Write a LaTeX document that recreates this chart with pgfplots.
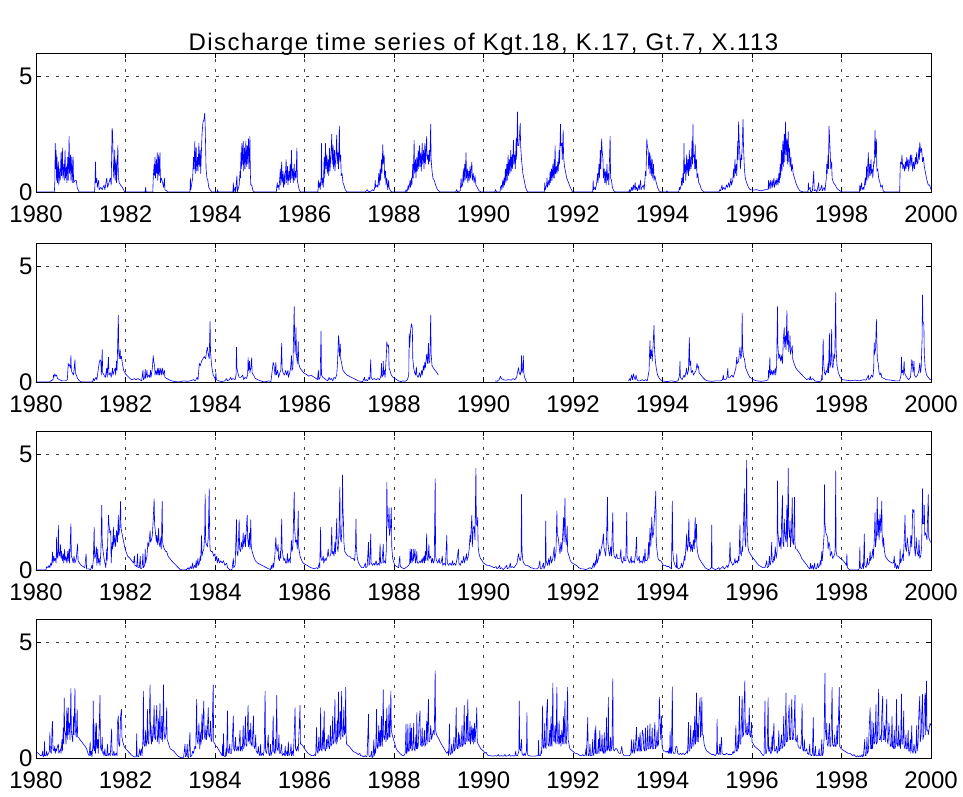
\documentclass[border=0pt]{standalone}
\usepackage{fontspec}
\setmainfont{Liberation Sans}
\usepackage{pgfplots}
\pgfplotsset{compat=1.18}
\usepackage{pgfplotstable}

\pgfplotstableread{
x y
0 0
0.41 0
0.42 0.4
0.43 2.1
0.44 1.0
0.45 1.8
0.46 0.5
0.47 1.5
0.48 0.4
0.50 1.3
0.51 0.3
0.53 1.0
0.54 0.5
0.56 1.7
0.57 0.7
0.59 1.9
0.60 0.6
0.62 1.2
0.63 0.5
0.65 1.8
0.66 0.6
0.68 1.1
0.69 0.4
0.71 1.5
0.72 0.5
0.74 2.4
0.75 0.8
0.77 1.6
0.78 0.5
0.80 1.5
0.81 0.4
0.83 1.5
0.84 0.4
0.87 0.5
0.90 0.5
0.92 0.2
0.96 0
1.31 0
1.32 0.5
1.33 1.3
1.34 0.4
1.36 0.6
1.37 0.2
1.40 0.5
1.41 0.1
1.45 0.2
1.48 0.1
1.52 0.3
1.54 0.1
1.58 0.6
1.60 0.2
1.63 0.4
1.66 0.6
1.68 0.3
1.70 2.75
1.71 2.6
1.73 1.0
1.74 0.6
1.76 1.8
1.77 0.5
1.79 1.4
1.80 0.4
1.83 2.0
1.84 0.6
1.86 0.4
1.89 0.3
1.93 0.2
1.97 0.05
1.99 0
2.44 0
2.45 0.2
2.46 0
2.61 0
2.62 0.6
2.64 1.2
2.65 0.7
2.66 1.5
2.67 0.6
2.69 1.4
2.70 0.8
2.71 1.7
2.72 0.5
2.74 1.6
2.75 0.7
2.77 1.7
2.78 0.4
2.80 0.6
2.83 0.4
2.85 0.2
2.87 0.6
2.88 0.1
2.92 0.05
2.95 0
3.44 0
3.45 0.6
3.46 0.1
3.50 0.6
3.52 1.5
3.53 1.0
3.55 2.2
3.56 0.8
3.58 1.9
3.59 0.9
3.61 1.5
3.62 0.9
3.64 2.1
3.65 1.1
3.67 1.8
3.68 0.8
3.71 2.5
3.73 3.0
3.75 3.1
3.77 3.4
3.78 2.9
3.79 2.0
3.80 1.0
3.82 0.6
3.84 0.5
3.86 0.2
3.89 0.1
3.93 0
4.05 0
4.06 0.1
4.07 0
4.40 0
4.41 0.4
4.42 0
4.45 0.2
4.46 0
4.49 0.7
4.50 0
4.54 0.3
4.56 0.9
4.57 0.6
4.58 1.7
4.59 1.0
4.60 2.1
4.61 1.2
4.63 2.2
4.64 0.9
4.66 1.9
4.67 1.0
4.69 2.2
4.70 1.1
4.72 2.0
4.73 1.2
4.75 2.3
4.76 1.0
4.78 2.4
4.79 0.8
4.80 0.3
4.82 0.3
4.85 0.05
4.88 0
5.37 0
5.39 0.4
5.40 0.2
5.42 0.3
5.43 0.1
5.46 1.0
5.47 0.3
5.49 1.3
5.50 0.4
5.52 0.9
5.53 0.2
5.55 0.8
5.56 0.3
5.59 1.4
5.60 0.4
5.62 1.1
5.63 0.3
5.65 0.9
5.66 0.5
5.68 1.2
5.69 0.4
5.71 1.8
5.72 0.6
5.74 1.0
5.75 0.4
5.77 1.2
5.78 0.5
5.80 0.9
5.81 0.6
5.83 1.9
5.84 0.5
5.86 0.3
5.88 0.1
5.91 0
6.30 0
6.31 0.5
6.32 0.2
6.34 0.4
6.35 0.1
6.37 0.6
6.38 2.1
6.39 0.3
6.41 0.6
6.42 0.2
6.44 1.5
6.45 0.6
6.47 2.1
6.48 1.0
6.50 1.6
6.51 0.8
6.53 1.4
6.54 0.7
6.56 1.9
6.57 0.9
6.59 1.6
6.61 2.5
6.62 1.2
6.64 2.0
6.65 1.0
6.67 1.8
6.68 0.9
6.70 1.5
6.72 2.45
6.73 1.2
6.75 1.7
6.76 1.0
6.78 2.85
6.79 1.3
6.81 1.6
6.82 0.7
6.84 0.8
6.86 0.4
6.88 0.3
6.91 0.1
6.95 0
7.36 0
7.40 0.1
7.43 0
7.50 0.05
7.52 0.1
7.55 0.05
7.57 0.2
7.58 0.5
7.59 0.2
7.62 0.3
7.64 0.2
7.66 0.8
7.67 0.3
7.69 1.0
7.70 0.5
7.72 1.4
7.73 0.8
7.75 2.05
7.76 1.2
7.78 1.6
7.79 0.6
7.81 0.9
7.82 0.3
7.84 0.6
7.86 0.1
7.88 0.5
7.89 0.2
7.92 0.05
7.96 0
8.25 0
8.27 0.1
8.29 0
8.32 0.3
8.33 0.1
8.36 0.5
8.37 0.2
8.39 0.6
8.40 0.3
8.42 1.2
8.43 0.6
8.45 2.24
8.46 0.8
8.48 1.4
8.49 0.6
8.51 1.5
8.52 0.9
8.54 1.8
8.55 1.0
8.57 2.0
8.58 1.1
8.60 1.7
8.61 0.9
8.63 2.1
8.64 1.2
8.66 1.8
8.67 1.0
8.69 2.1
8.70 1.2
8.73 2.4
8.74 1.4
8.76 1.6
8.77 1.2
8.79 1.8
8.80 1.3
8.82 2.93
8.83 1.4
8.85 0.9
8.87 0.6
8.90 0.5
8.93 0.3
8.97 0.1
9.03 0
9.38 0
9.40 0.1
9.42 0
9.48 0.05
9.50 0.6
9.51 0.2
9.53 0.3
9.55 1.0
9.56 0.4
9.58 1.2
9.59 0.5
9.61 1.7
9.62 0.6
9.64 1.0
9.65 0.4
9.67 0.9
9.68 0.5
9.70 1.1
9.71 0.6
9.74 1.3
9.75 0.5
9.77 0.8
9.79 0.4
9.81 0.7
9.83 0.3
9.86 0.2
9.90 0.05
9.95 0
10.25 0
10.27 0.1
10.29 0
10.37 0
10.38 0.2
10.40 0.3
10.41 0.1
10.43 0.5
10.44 0.2
10.46 0.6
10.47 0.3
10.49 1.0
10.50 0.4
10.52 1.2
10.53 0.5
10.55 1.6
10.56 0.7
10.58 1.4
10.59 0.8
10.61 1.8
10.62 0.9
10.64 1.6
10.65 1.0
10.67 2.24
10.68 1.2
10.70 1.6
10.71 1.0
10.73 2.3
10.74 1.4
10.76 3.46
10.77 2.0
10.79 2.0
10.80 2.3
10.82 2.96
10.83 2.0
10.85 1.4
10.88 0.8
10.91 0.5
10.94 0.2
10.97 0.05
11.00 0
11.36 0
11.37 0.4
11.38 0.1
11.41 0.3
11.42 0.6
11.43 0.2
11.46 0.5
11.47 0.3
11.49 0.9
11.50 0.4
11.52 1.0
11.53 0.5
11.55 1.2
11.56 0.6
11.58 1.4
11.59 0.6
11.60 2.0
11.61 0.8
11.63 1.1
11.64 0.8
11.66 1.3
11.67 0.9
11.69 1.8
11.70 1.2
11.72 2.93
11.73 2.0
11.75 2.1
11.76 1.4
11.78 2.67
11.79 1.5
11.81 1.1
11.83 0.9
11.86 0.6
11.90 0.4
11.94 0.2
11.99 0
12.44 0
12.45 0.5
12.46 0.1
12.49 0.2
12.50 0.1
12.53 0.4
12.55 0.8
12.56 0.4
12.58 1.2
12.59 0.6
12.61 1.8
12.62 1.0
12.64 2.3
12.65 1.8
12.67 1.4
12.68 0.6
12.70 1.0
12.71 0.4
12.73 0.9
12.74 0.3
12.76 1.2
12.77 0.5
12.79 0.8
12.80 0.3
12.83 2.4
12.84 0.6
12.86 0.5
12.88 0.2
12.91 0.05
12.95 0
13.25 0
13.26 0.1
13.28 0
13.31 0.2
13.32 0.05
13.35 0.3
13.36 0.1
13.39 0.4
13.40 0.1
13.42 0.2
13.44 0.05
13.47 0.3
13.48 0.1
13.51 0.5
13.52 0.1
13.54 0.2
13.57 0.3
13.59 0.1
13.61 0.6
13.62 0.9
13.63 0.7
13.65 2.3
13.66 2.0
13.68 1.8
13.69 1.0
13.71 1.7
13.72 0.8
13.74 1.6
13.75 0.7
13.77 1.4
13.78 0.6
13.80 1.2
13.81 0.5
13.83 0.7
13.86 0.4
13.89 0.2
13.92 0.05
13.96 0
14.08 0
14.10 0.05
14.13 0
14.36 0
14.38 0.2
14.39 0.1
14.42 0.3
14.43 0.6
14.44 0.3
14.46 0.8
14.47 0.4
14.48 2.1
14.49 0.8
14.51 1.2
14.52 0.5
14.54 1.6
14.55 0.8
14.57 1.4
14.58 0.7
14.60 1.8
14.61 0.9
14.63 1.5
14.64 1.0
14.66 2.2
14.67 1.2
14.68 2.93
14.69 1.5
14.71 1.6
14.72 1.0
14.73 2.05
14.74 1.0
14.76 1.4
14.77 0.6
14.79 0.8
14.81 0.4
14.84 0.3
14.87 0.1
14.92 0
15.26 0
15.28 0.1
15.30 0.05
15.33 0.3
15.34 0.1
15.37 0.2
15.40 0.1
15.43 0.3
15.45 0.2
15.48 0.4
15.50 0.2
15.53 0.6
15.54 0.3
15.57 0.5
15.59 1.0
15.60 0.6
15.62 1.4
15.63 0.8
15.65 1.2
15.66 0.7
15.68 2.2
15.69 1.4
15.70 3.03
15.71 2.4
15.73 1.5
15.74 1.0
15.76 1.6
15.77 1.4
15.80 3.13
15.81 2.0
15.83 1.0
15.85 0.6
15.88 0.4
15.92 0.2
15.96 0.1
16.02 0.08
16.10 0.1
16.20 0.05
16.30 0.1
16.36 0.1
16.37 0.5
16.38 0.15
16.41 0.5
16.42 0.15
16.45 0.5
16.46 0.2
16.49 0.6
16.50 0.2
16.53 0.5
16.54 0.3
16.56 0.6
16.58 0.3
16.60 0.8
16.61 0.4
16.63 1.2
16.64 0.6
16.66 1.8
16.67 0.9
16.69 2.2
16.70 1.1
16.72 2.5
16.73 1.3
16.75 3.03
16.76 1.6
16.78 2.3
16.79 1.2
16.81 2.6
16.82 1.3
16.84 1.9
16.85 1.1
16.87 1.5
16.88 0.9
16.90 1.2
16.92 0.8
16.95 0.6
16.98 0.4
17.02 0.2
17.07 0.05
17.15 0
17.25 0
17.26 0.4
17.27 0.1
17.30 0.2
17.31 0
17.35 0.05
17.38 0.9
17.39 0.05
17.42 0.1
17.45 0
17.49 0.4
17.50 0.05
17.53 0.1
17.56 0.3
17.57 0.05
17.61 0.2
17.63 0.05
17.66 0.6
17.67 1.2
17.68 0.8
17.70 1.6
17.71 1.0
17.72 2.84
17.73 2.5
17.75 1.6
17.76 1.0
17.78 1.3
17.79 0.6
17.82 0.4
17.86 0.3
17.90 0.15
17.96 0.05
18.02 0
18.40 0
18.41 0.3
18.42 0.05
18.45 0.4
18.46 0.1
18.49 0.2
18.50 0.1
18.53 0.6
18.54 0.3
18.56 1.1
18.57 0.5
18.60 1.7
18.61 0.6
18.63 1.2
18.64 0.7
18.66 1.4
18.67 0.8
18.69 1.0
18.70 0.6
18.72 1.3
18.73 1.2
18.75 2.67
18.76 1.5
18.78 2.27
18.79 0.9
18.81 1.0
18.83 0.6
18.86 0.4
18.88 0.2
18.91 0.3
18.93 0.05
18.97 0
19.30 0
19.31 1.0
19.32 1.3
19.34 1.2
19.35 1.6
19.37 1.0
19.39 1.2
19.41 0.9
19.43 1.3
19.44 1.0
19.46 1.5
19.47 1.1
19.49 1.4
19.50 0.9
19.52 1.3
19.54 1.6
19.55 1.1
19.57 1.6
19.59 0.9
19.61 1.3
19.63 1.0
19.65 1.5
19.66 1.2
19.68 1.7
19.69 1.2
19.71 1.3
19.73 1.9
19.74 1.4
19.75 2.14
19.77 1.7
19.79 1.9
19.81 1.3
19.83 1.5
19.85 1.1
19.88 0.8
19.91 0.5
19.94 0.3
19.97 0.3
20.00 0.1
}\tabA

\pgfplotstableread{
x y
0 0
0.30 0
0.33 0.05
0.38 0.1
0.39 0.3
0.40 0.2
0.42 0.35
0.44 0.25
0.46 0.3
0.48 0.15
0.52 0.1
0.58 0.05
0.66 0.05
0.70 0.1
0.72 0.8
0.73 0.7
0.75 0.75
0.77 0.6
0.78 1.15
0.79 0.5
0.81 0.4
0.84 0.3
0.87 0.96
0.88 0.4
0.90 0.3
0.93 0.15
0.97 0.05
1.02 0
1.25 0
1.27 0.05
1.29 0.15
1.30 0.05
1.34 0.2
1.36 0.1
1.41 0.8
1.43 0.96
1.45 0.9
1.46 0.3
1.48 1.4
1.49 0.4
1.52 0.3
1.55 0.2
1.58 0.6
1.59 0.2
1.62 1.07
1.63 0.3
1.66 0.4
1.68 0.2
1.71 0.6
1.72 0.3
1.75 0.5
1.77 0.6
1.78 0.3
1.80 0.9
1.81 0.5
1.82 1.2
1.84 2.88
1.85 1.3
1.86 1.0
1.88 1.4
1.89 1.0
1.91 1.1
1.93 0.8
1.96 0.5
2.00 0.35
2.05 0.25
2.10 0.15
2.15 0.1
2.20 0.15
2.23 0.1
2.28 0.15
2.32 0.1
2.36 0.05
2.39 0.5
2.40 0.1
2.43 0.2
2.44 0.55
2.45 0.15
2.48 0.5
2.49 0.2
2.52 0.3
2.54 0.2
2.56 0.5
2.57 0.2
2.60 0.6
2.62 1.14
2.63 0.9
2.65 0.7
2.66 0.3
2.68 0.5
2.70 0.3
2.72 0.6
2.73 0.3
2.75 0.6
2.76 0.3
2.79 0.6
2.80 0.3
2.83 0.6
2.84 0.3
2.87 0.5
2.88 0.2
2.92 0.15
2.97 0.1
3.03 0.05
3.10 0.02
3.20 0
3.30 0.05
3.38 0.03
3.45 0.05
3.52 0.1
3.56 0.05
3.60 0.2
3.62 0.1
3.65 0.8
3.67 0.7
3.70 0.9
3.73 1.0
3.76 1.1
3.79 1.0
3.81 1.3
3.83 1.5
3.85 1.2
3.87 1.0
3.89 2.63
3.90 1.3
3.92 0.8
3.94 0.5
3.96 0.3
3.99 0.2
4.01 0.1
4.02 0.4
4.03 0.1
4.08 0.05
4.15 0.02
4.22 0.05
4.26 0.15
4.28 0.05
4.32 0.1
4.35 0.2
4.37 0.1
4.40 0.15
4.45 0.1
4.47 0.3
4.48 1.5
4.49 0.6
4.51 0.4
4.54 0.2
4.58 0.2
4.62 0.3
4.64 0.1
4.67 0.2
4.70 0.15
4.73 0.3
4.74 1.05
4.75 0.5
4.77 0.9
4.78 0.4
4.80 0.6
4.82 1.05
4.83 0.4
4.86 0.3
4.90 0.15
4.95 0.1
5.02 0.05
5.10 0
5.20 0.05
5.25 0.02
5.30 0.85
5.32 0.7
5.34 0.3
5.36 0.85
5.37 0.3
5.40 0.5
5.42 0.2
5.45 0.4
5.47 0.5
5.49 1.67
5.50 0.6
5.52 0.4
5.55 0.3
5.58 0.5
5.60 0.3
5.63 0.5
5.64 0.2
5.67 0.4
5.69 0.6
5.71 1.14
5.72 0.5
5.74 0.6
5.77 3.25
5.78 1.8
5.79 1.2
5.81 2.34
5.82 1.2
5.84 0.8
5.86 1.74
5.87 0.8
5.90 0.6
5.94 0.5
5.98 0.4
6.02 0.35
6.06 0.3
6.10 0.25
6.14 0.3
6.18 0.25
6.22 0.2
6.26 0.15
6.29 0.1
6.31 0.5
6.32 0.1
6.35 0.2
6.37 2.2
6.38 0.3
6.41 0.2
6.45 0.15
6.48 0.1
6.52 0.05
6.55 0.2
6.57 0.1
6.60 0.15
6.63 0.05
6.66 0.2
6.69 0.15
6.72 0.3
6.74 0.9
6.76 2.0
6.77 1.8
6.78 1.1
6.80 1.64
6.81 1.0
6.83 0.8
6.86 0.5
6.90 0.4
6.95 0.3
7.00 0.25
7.05 0.2
7.10 0.15
7.15 0.1
7.20 0.05
7.30 0.02
7.34 0.2
7.35 0.05
7.38 0.1
7.41 0.05
7.44 0.2
7.46 0.1
7.48 0.96
7.49 0.2
7.52 0.1
7.56 0.15
7.60 0.1
7.64 0.15
7.68 0.1
7.71 0.3
7.72 0.8
7.73 0.2
7.75 0.3
7.76 0.9
7.77 0.3
7.79 0.5
7.80 0.2
7.83 1.2
7.84 1.74
7.85 1.6
7.87 1.5
7.88 1.6
7.89 0.6
7.91 0.5
7.94 0.3
7.98 0.2
8.02 0.15
8.06 0.1
8.10 0.05
8.15 0.02
8.20 0.05
8.25 0.03
8.30 0.1
8.33 0.3
8.34 2.09
8.35 1.5
8.37 2.2
8.39 2.51
8.40 2.4
8.41 2.34
8.42 1.0
8.44 0.6
8.46 0.4
8.48 0.3
8.50 0.65
8.51 0.3
8.54 0.2
8.57 0.4
8.59 0.2
8.62 0.5
8.63 0.3
8.66 0.7
8.67 0.5
8.69 0.86
8.70 0.6
8.73 1.2
8.75 0.8
8.77 1.67
8.78 0.8
8.80 0.9
8.82 2.88
8.83 1.2
8.85 0.7
8.88 0.6
8.92 0.5
8.96 0.4
8.99 0.3
9.00 nan
10.26 0.05
10.30 0.03
10.35 0.1
10.38 0.25
10.40 0.15
10.44 0.1
10.50 0.08
10.56 0.1
10.62 0.08
10.66 0.15
10.70 0.1
10.74 0.2
10.78 0.62
10.80 0.4
10.82 0.3
10.84 0.5
10.85 1.14
10.86 0.4
10.88 0.6
10.89 1.14
10.90 0.4
10.92 0.2
10.94 0.1
10.96 0
10.97 nan
13.24 0.05
13.27 0.15
13.28 0.05
13.31 0.3
13.33 0.1
13.35 0.35
13.37 0.2
13.39 0.1
13.41 0.3
13.43 0.1
13.46 0.05
13.50 0.05
13.55 0.1
13.58 0.05
13.62 0.1
13.66 0.05
13.70 0.5
13.71 1.2
13.72 1.78
13.73 1.0
13.75 1.4
13.77 0.9
13.79 1.6
13.81 2.44
13.82 1.5
13.84 0.9
13.86 0.6
13.89 0.3
13.93 0.15
13.98 0.05
14.10 0.02
14.20 0.05
14.28 0.02
14.35 0.05
14.38 0.3
14.39 0.89
14.40 0.2
14.44 0.1
14.48 0.3
14.50 0.2
14.54 0.6
14.55 0.3
14.58 0.5
14.60 1.92
14.61 0.7
14.63 0.9
14.64 0.4
14.67 0.5
14.69 0.3
14.72 0.4
14.75 0.5
14.77 0.8
14.79 0.6
14.80 0.7
14.82 0.4
14.86 0.3
14.90 0.2
14.95 0.1
15.00 0.05
15.10 0.03
15.20 0.05
15.30 0.05
15.34 0.1
15.36 0.3
15.37 0.1
15.41 0.1
15.44 0.2
15.46 0.6
15.47 0.2
15.51 0.2
15.55 0.3
15.58 0.2
15.61 0.4
15.64 0.6
15.66 1.07
15.67 0.8
15.70 0.9
15.73 1.5
15.75 1.0
15.77 1.2
15.78 2.98
15.79 1.5
15.81 1.1
15.83 1.0
15.86 0.6
15.90 0.4
15.95 0.2
16.00 0.15
16.03 0.1
16.10 0.05
16.20 0.03
16.30 0.05
16.36 0.1
16.37 0.5
16.38 0.2
16.40 1.07
16.41 0.3
16.44 0.5
16.45 0.3
16.48 0.5
16.49 0.3
16.52 0.6
16.53 0.3
16.55 0.7
16.57 3.25
16.58 1.5
16.60 1.0
16.62 1.2
16.64 0.9
16.66 1.14
16.68 0.8
16.70 1.8
16.72 2.34
16.73 1.5
16.75 2.0
16.76 1.4
16.78 3.08
16.79 1.6
16.81 2.2
16.82 1.3
16.84 1.6
16.85 2.0
16.86 1.2
16.88 1.4
16.90 1.57
16.91 1.0
16.94 0.8
16.98 0.6
17.02 0.5
17.07 0.4
17.12 0.3
17.17 0.2
17.22 0.1
17.26 0.15
17.29 0.1
17.30 0.25
17.32 0.1
17.36 0.15
17.40 0.05
17.45 0.03
17.50 0.02
17.55 0.05
17.56 0.3
17.57 0.1
17.59 1.85
17.60 0.8
17.62 0.4
17.64 0.3
17.66 0.5
17.68 0.4
17.70 0.8
17.71 0.4
17.73 2.1
17.74 0.6
17.76 0.8
17.78 2.27
17.79 0.7
17.81 0.6
17.83 1.2
17.85 1.0
17.87 3.86
17.88 1.4
17.90 0.7
17.93 0.4
17.97 0.2
18.02 0.1
18.10 0.08
18.20 0.05
18.30 0.08
18.40 0.05
18.50 0.1
18.55 0.08
18.60 0.3
18.61 0.1
18.64 0.15
18.67 0.3
18.70 0.2
18.72 0.6
18.73 1.7
18.74 1.2
18.76 1.4
18.78 2.7
18.79 1.8
18.80 1.0
18.82 0.8
18.84 0.4
18.86 0.3
18.88 0.4
18.90 0.2
18.95 0.15
19.00 0.1
19.10 0.08
19.20 0.05
19.30 0.05
19.33 0.3
19.34 1.07
19.35 0.4
19.37 0.5
19.38 0.3
19.40 0.9
19.41 0.4
19.43 0.3
19.46 0.2
19.50 0.1
19.54 0.2
19.56 0.6
19.57 0.96
19.58 0.9
19.60 0.4
19.62 0.9
19.63 0.3
19.66 0.2
19.70 0.3
19.73 0.5
19.75 0.82
19.76 0.4
19.78 0.6
19.80 1.8
19.81 3.76
19.82 2.6
19.84 2.5
19.85 1.2
19.87 0.6
19.90 0.3
19.94 0.2
19.98 0.1
20.00 0.1
}\tabB

\pgfplotstableread{
x y
0 0
0.22 0
0.24 0.15
0.27 0.1
0.29 0.2
0.31 0.1
0.33 0.3
0.35 0.2
0.37 0.78
0.38 0.3
0.40 0.6
0.41 0.4
0.43 0.5
0.45 0.3
0.46 1.42
0.47 0.6
0.49 0.5
0.50 1.94
0.51 0.8
0.53 0.6
0.55 1.1
0.56 0.5
0.57 0.8
0.59 0.4
0.61 0.7
0.62 0.3
0.64 0.9
0.65 0.4
0.67 0.6
0.69 0.3
0.71 0.8
0.72 0.4
0.74 0.9
0.75 0.3
0.78 2.0
0.79 0.6
0.81 0.5
0.83 0.3
0.85 0.6
0.87 0.3
0.90 0.5
0.93 1.13
0.94 0.4
0.97 0.3
1.01 0.2
1.05 0.15
1.09 0.1
1.12 0.7
1.13 0.05
1.17 0.05
1.22 0.02
1.25 0.2
1.26 0.05
1.28 0.4
1.30 1.84
1.31 0.5
1.33 0.6
1.35 1.0
1.36 0.2
1.38 0.9
1.39 0.3
1.41 0.5
1.43 0.2
1.45 0.8
1.47 2.8
1.48 1.2
1.50 0.8
1.52 0.5
1.54 0.3
1.56 0.1
1.58 0.9
1.59 0.4
1.62 2.37
1.63 2.0
1.65 1.6
1.67 1.7
1.68 0.3
1.70 1.2
1.71 0.9
1.73 1.84
1.74 1.0
1.76 1.5
1.78 1.0
1.80 1.7
1.82 1.2
1.84 2.37
1.85 1.5
1.87 1.8
1.89 2.97
1.90 1.8
1.92 1.6
1.95 1.3
1.98 1.0
2.01 0.8
2.05 0.6
2.10 0.5
2.14 0.4
2.18 0.3
2.20 0.6
2.21 0.2
2.25 0.15
2.27 0.7
2.28 0.1
2.31 0.1
2.33 0.6
2.34 0.05
2.37 0.1
2.39 0.7
2.40 0.1
2.43 0.2
2.44 0.9
2.45 0.3
2.48 0.6
2.50 1.2
2.52 1.0
2.55 1.7
2.56 1.2
2.58 1.3
2.60 1.5
2.62 2.2
2.64 3.07
2.65 2.0
2.67 1.6
2.69 1.2
2.70 1.5
2.72 1.1
2.74 1.8
2.75 1.2
2.77 1.0
2.79 1.4
2.80 0.9
2.82 2.97
2.83 1.2
2.85 1.0
2.87 0.9
2.90 0.8
2.92 0.8
2.95 0.6
2.99 0.5
3.03 0.4
3.08 0.3
3.13 0.2
3.18 0.1
3.22 0.02
3.30 0
3.36 0.02
3.40 0.1
3.42 0.02
3.45 0.15
3.47 0.05
3.50 0.3
3.51 0.05
3.54 0.2
3.56 0.1
3.58 0.4
3.59 0.1
3.62 0.5
3.63 0.2
3.65 0.3
3.67 0.6
3.68 0.4
3.70 1.49
3.71 0.6
3.73 0.8
3.75 0.9
3.77 1.5
3.78 3.26
3.79 1.2
3.81 1.1
3.83 1.0
3.85 1.4
3.87 3.51
3.88 1.5
3.89 0.9
3.91 0.8
3.94 0.8
3.97 0.6
4.00 0.7
4.01 0.4
4.04 0.6
4.05 0.3
4.08 0.5
4.10 0.3
4.13 0.4
4.16 0.3
4.19 0.4
4.22 0.2
4.26 0.3
4.28 0.1
4.31 0.05
4.34 0
4.38 0.02
4.41 0.5
4.42 0.1
4.45 0.2
4.48 2.17
4.49 0.8
4.51 0.6
4.52 1.0
4.54 2.17
4.55 0.9
4.57 0.8
4.59 1.2
4.61 0.9
4.63 1.6
4.64 1.0
4.67 1.5
4.68 1.0
4.70 1.8
4.72 2.37
4.73 1.4
4.75 1.0
4.77 1.6
4.78 0.9
4.80 2.17
4.81 1.0
4.83 0.8
4.86 0.6
4.90 0.4
4.95 0.3
5.00 0.25
5.05 0.2
5.10 0.15
5.15 0.1
5.20 0.05
5.24 0.02
5.26 0.2
5.27 0.05
5.30 0.3
5.31 0.1
5.34 0.7
5.36 1.42
5.37 1.0
5.39 0.8
5.41 1.1
5.42 0.5
5.44 0.4
5.46 0.8
5.47 0.5
5.49 2.2
5.50 0.9
5.52 0.6
5.54 0.4
5.56 0.5
5.58 0.3
5.60 0.3
5.62 0.7
5.63 0.3
5.66 0.5
5.68 0.3
5.71 1.27
5.72 0.8
5.74 1.0
5.77 3.36
5.78 1.8
5.80 1.2
5.82 1.3
5.84 0.9
5.86 2.55
5.87 1.0
5.90 0.6
5.94 0.4
5.97 0.3
6.01 0.25
6.06 0.2
6.10 0.15
6.14 0.1
6.18 0.08
6.22 0.05
6.27 0.1
6.30 0.05
6.33 0.3
6.34 0.1
6.36 1.84
6.37 0.5
6.39 0.4
6.42 0.6
6.43 0.3
6.46 0.5
6.48 0.4
6.51 0.6
6.53 0.9
6.54 0.6
6.57 0.6
6.59 0.7
6.61 1.84
6.62 0.7
6.64 0.8
6.66 0.6
6.68 1.2
6.69 0.7
6.72 2.22
6.73 1.0
6.75 0.8
6.77 1.6
6.79 3.58
6.80 1.4
6.82 1.2
6.84 2.0
6.85 4.1
6.86 2.5
6.87 2.12
6.88 1.2
6.90 0.8
6.93 0.7
6.97 0.6
7.01 0.6
7.05 0.5
7.09 0.5
7.12 0.4
7.14 1.0
7.15 2.2
7.16 1.0
7.18 0.5
7.21 0.3
7.24 0.2
7.28 0.1
7.32 0.1
7.36 0.3
7.37 0.1
7.40 0.15
7.43 1.2
7.44 0.2
7.46 0.3
7.48 1.56
7.49 0.3
7.52 0.2
7.55 0.3
7.57 0.2
7.60 0.4
7.62 0.2
7.65 0.3
7.67 0.2
7.69 1.13
7.70 0.3
7.73 0.3
7.76 1.1
7.77 0.3
7.79 0.4
7.81 0.3
7.83 0.9
7.84 3.78
7.85 2.5
7.87 1.8
7.89 2.69
7.90 1.5
7.92 1.8
7.94 2.69
7.95 1.0
7.97 0.5
8.00 0.3
8.02 0.2
8.06 0.15
8.10 0.1
8.13 0.6
8.14 0.15
8.18 0.1
8.22 0.05
8.26 0.1
8.30 0.15
8.33 0.2
8.35 0.3
8.36 0.9
8.37 0.3
8.39 0.9
8.40 0.3
8.42 0.5
8.43 0.9
8.44 0.4
8.47 0.9
8.48 0.3
8.50 0.5
8.51 0.8
8.52 0.3
8.55 0.3
8.58 0.4
8.60 0.3
8.63 0.5
8.64 0.3
8.67 0.6
8.68 0.3
8.70 0.8
8.71 0.4
8.73 1.56
8.74 0.5
8.76 0.4
8.78 1.1
8.79 0.5
8.82 0.6
8.84 0.3
8.86 0.5
8.88 0.3
8.90 0.4
8.92 3.94
8.93 0.6
8.95 0.4
8.98 0.3
9.01 0.5
9.02 0.3
9.05 0.3
9.08 0.6
9.09 0.2
9.12 0.3
9.15 0.2
9.18 1.49
9.19 0.3
9.22 0.2
9.25 0.3
9.28 0.2
9.31 0.4
9.32 0.2
9.35 0.3
9.38 0.2
9.41 0.5
9.44 0.9
9.45 0.3
9.48 0.2
9.51 0.4
9.53 0.3
9.56 0.6
9.57 0.3
9.60 0.5
9.62 0.7
9.63 0.4
9.66 0.6
9.68 0.9
9.70 1.5
9.71 1.2
9.73 2.0
9.74 2.37
9.75 1.0
9.77 1.8
9.79 1.9
9.81 1.3
9.83 4.39
9.84 2.0
9.86 1.9
9.87 2.27
9.88 1.0
9.90 0.7
9.93 0.5
9.97 0.4
10.00 0.3
10.04 0.25
10.08 0.2
10.13 0.2
10.18 0.15
10.24 0.1
10.28 0.15
10.30 0.05
10.33 0.1
10.36 0.2
10.37 0.05
10.40 0.1
10.44 0.02
10.48 0.1
10.52 0.2
10.53 0.05
10.57 0.1
10.60 0.3
10.61 0.1
10.64 0.15
10.68 0.1
10.72 0.2
10.75 0.3
10.78 0.7
10.80 0.5
10.82 0.4
10.84 0.6
10.85 3.26
10.86 0.8
10.88 0.4
10.90 0.3
10.94 0.2
10.98 0.2
11.02 0.15
11.06 0.1
11.10 0.08
11.14 0.05
11.19 0.05
11.23 0.1
11.26 0.4
11.27 0.05
11.30 0.05
11.34 0.3
11.35 0.05
11.38 0.2
11.39 2.12
11.40 0.4
11.43 0.2
11.46 0.5
11.47 0.2
11.50 0.6
11.52 0.3
11.55 0.5
11.58 1.0
11.59 0.4
11.62 0.8
11.64 2.55
11.65 1.5
11.67 1.4
11.69 1.0
11.71 0.7
11.73 1.2
11.75 0.8
11.77 1.5
11.79 2.27
11.80 1.2
11.82 3.09
11.83 1.5
11.85 1.1
11.87 1.9
11.88 0.8
11.91 0.6
11.94 0.4
11.98 0.3
12.03 0.25
12.08 0.2
12.13 0.1
12.18 0.05
12.23 0.05
12.28 0.02
12.33 0.05
12.38 0.1
12.42 0.05
12.46 0.3
12.47 0.1
12.50 0.4
12.51 0.2
12.53 0.7
12.54 0.3
12.57 0.5
12.59 0.9
12.60 0.6
12.62 0.8
12.64 1.0
12.66 1.2
12.68 1.56
12.69 1.0
12.71 0.8
12.73 0.6
12.75 1.4
12.77 3.14
12.78 1.2
12.80 0.8
12.82 0.6
12.84 1.0
12.86 0.6
12.89 2.48
12.90 0.9
12.92 0.6
12.95 0.5
12.98 0.7
12.99 0.5
13.02 0.5
13.05 0.5
13.07 0.9
13.08 0.4
13.11 0.3
13.14 0.6
13.15 0.4
13.18 0.4
13.20 2.48
13.21 0.6
13.24 0.4
13.27 0.3
13.30 0.6
13.31 0.3
13.34 0.4
13.37 0.3
13.40 0.7
13.42 1.42
13.43 0.5
13.45 0.4
13.48 0.6
13.49 0.3
13.52 0.4
13.55 0.3
13.58 0.6
13.59 0.3
13.61 0.9
13.62 0.4
13.65 0.4
13.67 0.5
13.69 1.2
13.70 0.5
13.72 1.8
13.74 1.0
13.76 2.27
13.78 1.4
13.80 1.6
13.83 2.6
13.85 3.4
13.86 1.2
13.88 0.8
13.90 0.5
13.93 0.4
13.96 0.4
13.99 0.3
14.02 0.2
14.06 0.2
14.10 0.15
14.14 0.15
14.17 0.1
14.20 0.05
14.22 2.97
14.23 0.8
14.25 0.4
14.28 0.2
14.31 0.1
14.32 0.7
14.33 0.1
14.36 0.05
14.40 0.1
14.43 0.3
14.44 0.1
14.47 0.3
14.49 0.6
14.50 0.4
14.52 0.9
14.54 1.56
14.55 0.8
14.57 1.0
14.59 2.2
14.60 1.0
14.62 1.2
14.63 0.8
14.65 1.1
14.67 0.8
14.69 1.3
14.71 0.9
14.73 2.27
14.74 1.2
14.76 1.98
14.77 1.0
14.79 0.7
14.82 0.5
14.85 0.4
14.88 0.3
14.92 0.2
14.95 0.1
14.99 0.05
15.03 0.02
15.07 0.05
15.09 0.1
15.10 1.95
15.11 0.1
15.14 0.05
15.18 0.02
15.22 0.05
15.26 0.1
15.28 0.02
15.32 0.1
15.35 0.15
15.38 0.05
15.41 0.1
15.44 0.2
15.46 0.1
15.49 0.3
15.51 1.2
15.52 0.4
15.55 0.3
15.57 0.2
15.60 0.3
15.62 0.5
15.63 0.3
15.66 0.4
15.68 0.3
15.70 0.6
15.71 0.4
15.73 1.95
15.74 0.8
15.76 0.6
15.78 1.0
15.79 0.8
15.81 2.0
15.83 3.51
15.84 1.4
15.86 1.0
15.88 4.75
15.89 2.0
15.91 1.0
15.93 0.8
15.96 0.7
15.99 0.6
16.03 0.5
16.07 0.4
16.11 0.3
16.15 0.2
16.20 0.15
16.25 0.1
16.29 0.1
16.33 0.4
16.34 0.1
16.37 0.15
16.39 0.6
16.40 0.2
16.42 0.3
16.44 1.2
16.45 0.4
16.47 0.3
16.49 0.6
16.50 0.4
16.52 1.0
16.54 0.5
16.56 0.8
16.57 3.85
16.58 1.6
16.60 1.2
16.62 1.0
16.63 1.4
16.65 0.9
16.66 2.0
16.68 3.23
16.69 1.2
16.71 1.0
16.72 2.2
16.74 1.5
16.76 1.2
16.78 2.8
16.79 1.0
16.81 4.39
16.82 1.8
16.84 1.4
16.85 2.12
16.86 1.0
16.88 1.5
16.90 3.12
16.91 1.2
16.93 1.1
16.95 3.14
16.96 1.1
16.98 0.9
17.00 0.9
17.03 0.8
17.07 0.7
17.11 0.5
17.15 0.4
17.19 0.3
17.23 0.2
17.26 0.1
17.29 0.05
17.31 0.3
17.32 0.05
17.35 0.2
17.37 0.02
17.40 0.3
17.41 0.05
17.44 0.05
17.47 0.3
17.48 0.1
17.51 0.2
17.53 0.4
17.54 0.2
17.56 0.8
17.57 0.4
17.59 0.9
17.61 1.5
17.62 3.68
17.63 2.0
17.65 1.6
17.67 1.5
17.69 1.4
17.70 0.9
17.72 1.2
17.74 1.0
17.75 0.6
17.78 0.8
17.80 0.5
17.83 0.6
17.85 0.7
17.86 1.0
17.87 4.28
17.88 0.8
17.90 0.6
17.93 0.6
17.97 0.5
18.01 0.45
18.04 0.4
18.08 0.3
18.11 0.2
18.12 0.7
18.13 0.1
18.16 0.05
18.19 0
18.38 0
18.40 0.1
18.41 1.0
18.42 0.1
18.45 0.05
18.48 0.3
18.49 0.05
18.51 1.56
18.52 0.2
18.55 0.1
18.58 0.5
18.59 0.2
18.62 0.3
18.64 0.8
18.65 0.4
18.68 0.6
18.70 0.9
18.71 0.5
18.73 1.2
18.75 2.48
18.76 1.0
18.78 1.4
18.80 3.14
18.81 1.5
18.83 2.2
18.84 1.3
18.86 2.4
18.88 1.6
18.90 2.97
18.91 1.4
18.93 1.0
18.94 1.4
18.96 0.8
18.98 0.6
19.01 0.5
19.05 0.4
19.09 0.35
19.13 0.3
19.16 0.3
19.18 0.6
19.19 0.1
19.21 0.3
19.23 0.05
19.25 0.2
19.27 0.05
19.30 0.3
19.31 0.9
19.32 0.3
19.35 0.5
19.37 0.7
19.38 0.4
19.40 1.2
19.42 2.37
19.43 1.0
19.45 0.8
19.47 1.4
19.49 1.0
19.51 0.6
19.53 0.8
19.55 1.5
19.57 1.0
19.59 2.62
19.60 2.5
19.62 2.6
19.63 1.0
19.65 0.6
19.67 1.4
19.68 1.0
19.70 0.7
19.72 0.6
19.73 1.3
19.75 0.5
19.77 0.6
19.79 1.0
19.81 3.51
19.82 2.0
19.84 2.0
19.85 2.8
19.86 1.5
19.88 1.6
19.91 1.3
19.92 2.0
19.94 3.26
19.95 1.4
19.97 1.3
19.99 1.2
20.00 1.2
}\tabC

\pgfplotstableread{
x y
0 0.3
0.02 0.25
0.05 0.2
0.08 0.15
0.10 0.1
0.13 0.1
0.15 0.3
0.16 0.05
0.18 0.1
0.19 0.7
0.20 0.1
0.22 0.1
0.24 0.3
0.25 0.1
0.28 0.2
0.30 0.3
0.31 1.1
0.32 0.3
0.34 0.2
0.35 0.6
0.36 1.4
0.37 1.58
0.38 0.4
0.40 0.3
0.42 0.5
0.43 0.2
0.45 0.4
0.46 0.3
0.48 0.5
0.50 0.6
0.51 0.2
0.53 0.3
0.55 0.4
0.56 0.2
0.58 0.8
0.59 0.3
0.61 1.3
0.62 0.6
0.63 2.6
0.64 1.2
0.66 1.0
0.67 0.6
0.69 2.17
0.70 0.8
0.72 2.17
0.73 1.0
0.75 1.5
0.76 0.8
0.78 3.0
0.79 1.2
0.80 1.0
0.82 0.7
0.84 1.8
0.85 1.0
0.87 3.0
0.88 1.2
0.90 0.9
0.92 2.1
0.93 0.9
0.95 0.9
0.98 0.8
1.02 0.7
1.06 0.6
1.10 0.5
1.13 0.4
1.17 0.15
1.19 0.1
1.21 0.7
1.22 0.1
1.24 0.3
1.25 0.05
1.27 0.5
1.28 2.46
1.29 0.4
1.31 0.3
1.32 1.5
1.33 0.2
1.35 1.5
1.36 0.4
1.38 0.8
1.39 0.2
1.41 1.1
1.43 2.7
1.44 0.5
1.46 0.3
1.48 0.9
1.49 0.2
1.50 0.3
1.52 0.1
1.54 0.4
1.55 0.1
1.58 0.1
1.60 0.6
1.61 0.1
1.64 0.2
1.66 0.1
1.69 1.26
1.70 0.2
1.72 0.1
1.74 0.3
1.76 0.1
1.79 0.2
1.81 0.1
1.82 1.5
1.84 1.82
1.85 0.6
1.87 0.5
1.89 1.8
1.91 2.1
1.92 0.9
1.94 0.7
1.97 0.5
2.00 0.4
2.05 0.3
2.10 0.2
2.15 0.1
2.20 0.05
2.24 0.05
2.25 1.05
2.26 0.1
2.29 0.05
2.32 0.4
2.33 0.1
2.36 0.4
2.37 0.1
2.39 0.8
2.40 2.88
2.41 0.6
2.43 0.5
2.45 1.2
2.46 0.5
2.48 0.8
2.49 2.1
2.50 0.7
2.52 0.6
2.53 1.5
2.55 3.16
2.56 1.0
2.58 0.6
2.59 1.4
2.60 0.7
2.62 1.0
2.64 2.27
2.65 0.9
2.67 0.8
2.68 1.6
2.70 2.27
2.71 0.7
2.73 1.0
2.74 1.7
2.75 0.6
2.77 2.35
2.78 0.9
2.80 0.8
2.81 1.8
2.83 0.7
2.85 3.16
2.86 1.2
2.88 0.8
2.90 1.0
2.92 2.17
2.93 0.8
2.95 0.7
2.98 0.5
3.00 0.4
3.04 0.35
3.08 0.3
3.12 0.2
3.16 0.1
3.20 0.05
3.24 0.02
3.28 0
3.30 0.05
3.33 0.6
3.34 0.05
3.36 0.1
3.38 0.6
3.39 0.05
3.41 0.02
3.44 1.1
3.45 0.05
3.48 0.1
3.50 0.3
3.52 0.2
3.55 0.5
3.57 0.4
3.59 2.53
3.60 0.8
3.62 0.6
3.64 1.5
3.66 0.4
3.68 1.1
3.69 0.6
3.71 1.9
3.72 0.8
3.75 2.46
3.76 1.0
3.78 0.8
3.80 1.4
3.81 0.8
3.83 1.2
3.85 2.17
3.86 1.0
3.88 0.9
3.90 1.6
3.91 0.8
3.93 0.7
3.96 3.16
3.97 0.7
4.00 0.6
4.02 0.5
4.04 0.5
4.07 0.4
4.10 0.3
4.13 0.2
4.16 0.1
4.17 0.6
4.18 0.1
4.19 1.05
4.20 0.1
4.23 0.05
4.25 0.4
4.26 0.1
4.28 2.03
4.29 0.3
4.31 0.2
4.33 0.6
4.34 0.2
4.37 0.2
4.39 0.9
4.41 1.82
4.42 0.4
4.44 0.3
4.46 0.9
4.47 0.4
4.49 0.3
4.51 0.5
4.53 0.3
4.56 1.19
4.57 0.3
4.59 0.5
4.61 0.3
4.63 1.4
4.64 0.4
4.66 0.6
4.68 1.8
4.69 0.6
4.71 0.5
4.74 2.27
4.75 0.7
4.77 1.2
4.78 0.6
4.80 1.5
4.81 0.6
4.83 0.5
4.86 1.82
4.87 0.5
4.89 0.4
4.91 1.0
4.92 0.3
4.95 0.2
4.97 0.5
4.98 0.2
5.00 0.1
5.02 0.6
5.03 0.1
5.06 0.2
5.08 0.1
5.10 0.4
5.12 2.88
5.13 0.3
5.15 0.2
5.17 0.5
5.19 1.0
5.20 0.2
5.22 0.1
5.24 0.6
5.25 0.1
5.28 0.3
5.30 1.82
5.31 0.3
5.33 0.2
5.35 0.8
5.36 0.2
5.38 2.7
5.39 0.4
5.41 0.3
5.43 1.0
5.44 0.2
5.46 0.2
5.49 0.6
5.50 0.1
5.53 0.2
5.55 0.1
5.57 0.5
5.58 0.1
5.61 0.3
5.62 0.1
5.64 0.7
5.65 0.1
5.68 0.2
5.70 0.6
5.71 0.1
5.73 0.3
5.75 0.1
5.77 1.0
5.79 2.17
5.80 0.4
5.82 0.3
5.84 0.5
5.86 0.3
5.88 1.2
5.90 2.27
5.91 0.6
5.93 0.6
5.95 0.55
5.97 0.5
6.00 0.4
6.04 0.3
6.08 0.2
6.12 0.15
6.16 0.1
6.20 0.1
6.23 0.15
6.25 0.1
6.27 1.33
6.28 0.3
6.30 0.2
6.32 0.9
6.33 0.3
6.35 0.4
6.36 2.17
6.37 0.4
6.39 0.3
6.41 1.2
6.42 0.4
6.44 2.03
6.45 0.4
6.47 0.3
6.49 0.8
6.50 0.4
6.53 1.0
6.54 0.5
6.56 0.4
6.58 1.4
6.59 0.5
6.61 0.6
6.63 1.8
6.64 0.6
6.66 0.7
6.68 2.53
6.69 0.8
6.71 0.6
6.73 1.6
6.74 0.7
6.76 2.85
6.77 0.9
6.79 1.2
6.80 2.0
6.81 0.8
6.83 2.88
6.84 1.0
6.86 0.9
6.88 2.2
6.89 1.0
6.91 1.1
6.92 3.05
6.93 1.0
6.94 0.6
6.97 0.55
7.00 0.5
7.04 0.4
7.08 0.3
7.12 0.25
7.17 0.2
7.20 0.15
7.24 0.2
7.25 0.1
7.28 0.1
7.32 0.05
7.36 0.1
7.38 0.05
7.40 0.1
7.43 1.89
7.44 0.1
7.46 0.05
7.48 0.1
7.50 0.3
7.51 0.02
7.53 0.05
7.55 0.8
7.56 0.1
7.58 0.4
7.59 0.2
7.61 2.1
7.62 0.5
7.64 0.4
7.66 1.4
7.67 0.5
7.69 1.2
7.70 0.5
7.72 1.8
7.73 0.6
7.74 0.5
7.76 2.95
7.77 0.9
7.79 0.8
7.81 1.6
7.82 0.7
7.84 2.17
7.85 0.8
7.87 0.9
7.89 2.3
7.90 0.9
7.91 0.9
7.93 2.88
7.94 1.2
7.96 1.0
7.99 0.8
8.02 0.6
8.05 0.4
8.08 0.3
8.11 0.25
8.13 0.2
8.16 0.15
8.19 0.1
8.22 0.1
8.25 0.2
8.27 1.47
8.28 0.2
8.30 0.3
8.31 1.47
8.32 0.3
8.34 0.3
8.36 1.5
8.37 0.4
8.39 1.3
8.40 0.3
8.42 0.4
8.44 1.5
8.45 0.4
8.47 0.3
8.49 1.0
8.50 0.4
8.51 1.96
8.52 0.4
8.54 0.5
8.56 1.5
8.58 2.03
8.59 0.6
8.61 0.5
8.63 1.3
8.64 0.5
8.66 0.6
8.68 1.2
8.69 0.5
8.71 0.6
8.73 1.6
8.74 0.6
8.77 2.53
8.78 0.7
8.80 0.7
8.82 1.4
8.84 0.8
8.86 1.0
8.88 1.2
8.90 1.0
8.92 3.76
8.93 1.2
8.95 1.0
8.98 0.9
9.01 0.8
9.03 0.7
9.06 0.6
9.09 0.5
9.12 0.4
9.15 0.3
9.18 0.2
9.21 0.3
9.22 0.1
9.24 1.47
9.25 0.2
9.27 0.15
9.29 0.6
9.30 0.2
9.32 0.3
9.34 0.9
9.35 0.3
9.37 0.4
9.39 2.17
9.40 0.5
9.42 0.4
9.44 1.1
9.45 0.4
9.47 1.0
9.48 0.5
9.50 0.5
9.52 1.4
9.53 0.5
9.55 0.6
9.57 2.27
9.58 0.6
9.60 0.6
9.62 1.8
9.63 0.7
9.65 2.53
9.66 0.8
9.68 0.7
9.70 1.6
9.71 0.6
9.74 1.4
9.75 0.7
9.77 1.3
9.78 0.6
9.80 1.5
9.81 0.7
9.83 1.2
9.85 2.17
9.86 0.7
9.88 0.6
9.91 0.5
9.94 0.4
9.97 0.35
10.00 0.3
10.03 0.2
10.06 0.25
10.08 0.15
10.11 0.1
10.15 0.1
10.20 0.08
10.26 0.1
10.30 0.08
10.33 0.15
10.35 0.08
10.40 0.1
10.45 0.08
10.48 0.15
10.50 0.08
10.55 0.1
10.58 0.15
10.60 0.08
10.65 0.1
10.70 0.08
10.72 0.3
10.73 0.1
10.76 0.1
10.79 0.3
10.80 2.46
10.81 0.4
10.83 0.3
10.85 0.8
10.86 0.2
10.89 0.1
10.91 0.2
10.93 0.1
10.96 0.3
10.97 1.96
10.98 0.2
11.00 0.1
11.02 0.1
11.06 0.08
11.10 0.08
11.15 0.08
11.20 0.1
11.22 0.1
11.23 0.76
11.24 0.1
11.27 0.1
11.29 0.3
11.30 0.2
11.32 2.25
11.33 0.5
11.35 0.4
11.37 1.5
11.38 0.5
11.40 0.4
11.41 1.9
11.43 2.53
11.44 0.6
11.46 0.5
11.48 1.2
11.49 0.5
11.51 1.8
11.52 0.6
11.53 0.5
11.55 3.23
11.56 0.8
11.58 0.7
11.60 1.4
11.61 0.7
11.62 0.6
11.64 3.05
11.65 0.8
11.67 0.6
11.69 1.6
11.70 0.6
11.72 1.0
11.73 0.5
11.75 1.2
11.77 0.6
11.79 1.8
11.80 0.6
11.82 2.46
11.83 0.7
11.85 0.6
11.86 1.2
11.88 3.05
11.89 0.8
11.91 0.6
11.93 0.4
11.96 0.35
11.99 0.3
12.02 0.25
12.05 0.2
12.08 0.2
12.12 0.15
12.16 0.1
12.19 0.1
12.22 0.15
12.24 0.1
12.27 0.1
12.29 0.4
12.30 0.1
12.33 1.75
12.34 0.1
12.36 0.1
12.38 0.6
12.39 0.1
12.42 0.1
12.44 0.8
12.45 0.1
12.47 0.2
12.49 1.2
12.50 0.2
12.51 1.4
12.52 0.2
12.55 0.2
12.57 0.8
12.58 0.2
12.60 1.2
12.61 0.3
12.63 0.3
12.65 1.0
12.66 0.3
12.68 0.2
12.70 1.1
12.71 0.2
12.73 0.3
12.75 1.75
12.76 0.3
12.78 0.4
12.79 2.63
12.80 0.4
12.82 0.3
12.84 0.9
12.85 0.3
12.87 0.5
12.89 3.42
12.90 0.4
12.92 0.3
12.95 0.4
12.98 0.4
13.00 0.3
13.03 0.2
13.06 0.2
13.09 0.5
13.11 0.2
13.14 0.1
13.18 0.1
13.22 0.1
13.26 0.1
13.29 0.15
13.31 0.8
13.32 0.2
13.34 0.3
13.36 0.8
13.37 0.2
13.39 0.4
13.42 1.33
13.43 0.3
13.45 0.3
13.47 0.9
13.48 0.3
13.50 1.1
13.51 0.3
13.53 0.3
13.55 1.2
13.57 1.0
13.58 0.4
13.60 0.3
13.62 1.3
13.63 0.3
13.65 0.4
13.67 1.4
13.68 0.4
13.70 0.4
13.72 1.47
13.73 0.4
13.75 0.5
13.77 1.3
13.78 0.4
13.80 0.4
13.83 1.54
13.84 0.4
13.86 0.5
13.88 1.2
13.89 0.5
13.91 0.6
13.93 2.63
13.94 2.0
13.96 0.8
13.98 1.8
13.99 0.5
14.02 0.3
14.05 0.3
14.08 0.25
14.11 0.3
14.13 0.2
14.15 0.4
14.16 0.2
14.17 1.14
14.18 0.2
14.20 0.2
14.22 3.07
14.23 0.3
14.25 0.2
14.28 0.2
14.30 0.5
14.32 0.5
14.34 0.2
14.37 0.15
14.40 0.2
14.43 0.15
14.46 0.2
14.49 0.15
14.52 0.2
14.55 0.3
14.56 0.2
14.58 1.54
14.59 0.3
14.61 0.3
14.63 1.4
14.64 0.4
14.66 0.5
14.68 1.0
14.69 1.2
14.70 0.5
14.72 1.8
14.73 0.6
14.74 0.6
14.76 2.81
14.77 0.7
14.79 1.5
14.80 0.7
14.82 2.0
14.84 2.6
14.85 0.9
14.86 1.0
14.88 2.63
14.89 1.0
14.91 1.0
14.93 0.6
14.96 0.4
14.99 0.3
15.03 0.25
15.06 0.2
15.10 0.15
15.14 0.15
15.18 0.1
15.21 0.2
15.22 1.68
15.23 0.2
15.26 0.15
15.28 0.6
15.29 0.15
15.32 0.9
15.33 0.2
15.36 0.15
15.40 0.15
15.43 0.2
15.47 0.15
15.51 0.15
15.55 0.15
15.58 0.3
15.59 0.2
15.62 0.3
15.64 1.4
15.65 0.3
15.67 0.3
15.69 1.0
15.70 0.4
15.72 2.67
15.73 0.6
15.75 0.6
15.76 1.4
15.78 2.67
15.79 0.9
15.81 1.0
15.82 2.0
15.84 3.33
15.85 1.2
15.87 1.0
15.89 1.5
15.90 1.0
15.92 1.1
15.94 2.17
15.95 1.0
15.97 0.9
15.99 1.54
16.00 0.7
16.03 0.6
16.06 0.5
16.09 0.45
16.12 0.4
16.15 0.35
16.18 0.3
16.21 0.2
16.25 0.1
16.27 0.15
16.29 2.46
16.30 0.2
16.32 0.2
16.34 0.5
16.36 2.6
16.37 0.3
16.39 0.3
16.40 0.5
16.41 0.2
16.43 0.2
16.45 1.0
16.46 0.3
16.49 1.5
16.50 0.3
16.52 0.3
16.55 0.5
16.56 0.2
16.58 0.3
16.60 1.2
16.61 0.3
16.63 0.4
16.66 1.0
16.67 0.4
16.69 0.5
16.71 1.8
16.72 0.5
16.74 0.6
16.76 2.81
16.77 0.7
16.79 0.7
16.81 1.6
16.83 2.3
16.84 0.8
16.86 0.8
16.87 1.5
16.89 2.53
16.90 0.8
16.92 0.8
16.94 1.4
16.96 2.71
16.97 0.8
16.99 0.7
17.01 1.0
17.03 0.5
17.05 0.45
17.08 0.4
17.10 0.6
17.12 2.34
17.13 0.4
17.15 0.3
17.17 0.8
17.18 0.3
17.20 0.3
17.22 0.4
17.24 0.2
17.27 0.15
17.29 0.6
17.30 0.15
17.33 0.1
17.35 0.2
17.37 1.75
17.38 0.1
17.40 0.1
17.42 0.5
17.43 0.1
17.45 0.1
17.48 0.1
17.50 0.4
17.51 0.1
17.54 0.1
17.56 0.8
17.57 0.1
17.59 0.2
17.61 0.8
17.63 3.66
17.64 1.2
17.66 0.8
17.67 1.5
17.68 0.6
17.70 0.5
17.71 0.9
17.73 1.5
17.74 0.5
17.76 0.5
17.77 1.2
17.79 3.05
17.80 0.6
17.82 0.5
17.83 0.5
17.85 1.0
17.86 0.5
17.88 0.5
17.90 1.4
17.91 0.6
17.93 1.5
17.95 3.05
17.96 0.5
17.99 0.4
18.03 0.35
18.07 0.3
18.11 0.25
18.15 0.2
18.19 0.2
18.22 0.15
18.25 0.1
18.28 0.15
18.30 0.1
18.33 0.05
18.36 0.1
18.38 0.05
18.41 0.1
18.43 0.05
18.46 0.15
18.47 0.05
18.49 0.1
18.52 0.8
18.53 0.1
18.55 0.1
18.57 0.9
18.58 0.2
18.60 0.3
18.62 1.3
18.64 2.17
18.65 0.4
18.67 0.4
18.68 1.6
18.69 0.4
18.70 0.5
18.72 1.5
18.73 0.6
18.75 0.7
18.77 2.3
18.78 0.6
18.80 0.7
18.81 1.5
18.83 2.98
18.84 0.8
18.86 0.8
18.88 1.0
18.89 0.7
18.90 1.8
18.92 2.67
18.93 0.8
18.95 0.8
18.96 1.4
18.98 0.7
19.01 2.53
19.02 0.8
19.04 0.6
19.06 1.5
19.08 1.0
19.09 0.5
19.11 0.5
19.13 1.8
19.14 0.5
19.16 0.4
19.18 1.2
19.19 0.4
19.21 0.5
19.23 2.53
19.24 0.6
19.26 0.5
19.28 1.4
19.29 0.5
19.31 0.8
19.32 0.4
19.34 2.77
19.35 0.6
19.37 0.6
19.39 2.03
19.40 0.5
19.42 0.4
19.44 1.0
19.45 0.4
19.47 0.4
19.49 1.2
19.50 0.3
19.52 0.3
19.54 0.8
19.55 0.2
19.57 1.4
19.58 0.3
19.60 0.2
19.62 0.6
19.64 0.3
19.66 0.2
19.68 1.4
19.69 0.3
19.71 0.6
19.73 2.0
19.75 2.67
19.76 0.7
19.78 1.0
19.79 1.8
19.81 2.74
19.82 0.8
19.84 1.0
19.85 2.2
19.87 2.81
19.88 1.0
19.90 3.33
19.91 1.2
19.93 1.2
19.94 1.0
19.96 1.3
19.98 1.5
20.00 1.4
}\tabD

\pgfplotsset{
  panel/.style={
    anchor=south west,
    width=895pt, height=139pt, scale only axis,
    xmin=0, xmax=20, ymin=0, ymax=6,
    xtick={0,2,...,20},
    xticklabels={1980,1982,1984,1986,1988,1990,1992,1994,1996,1998,2000},
    ytick={0,5},
    grid=major,
    major grid style={black!75, dash pattern=on 3pt off 7pt, line width=0.6pt},
    tick align=inside,
    major tick length=5pt,
    axis line style={black, line width=0.8pt},
    tick style={black, line width=0.6pt},
    ticklabel style={font=\fontsize{24}{28}\selectfont},
    xticklabel shift=10pt,
    /pgf/number format/assume math mode=true,
    unbounded coords=jump,
  },
  series/.style={blue, line width=0.6pt, line join=round, mark=none},
}

\begin{document}
\begin{tikzpicture}
\begin{axis}[panel, at={(36pt,605pt)}]
\addplot[series] table[x=x,y=y] {\tabA};
\end{axis}
\begin{axis}[panel, at={(36pt,415pt)}]
\addplot[series] table[x=x,y=y] {\tabB};
\end{axis}
\begin{axis}[panel, at={(36pt,227pt)}]
\addplot[series] table[x=x,y=y] {\tabC};
\end{axis}
\begin{axis}[panel, at={(36pt,39pt)}]
\addplot[series] table[x=x,y=y] {\tabD};
\end{axis}
\node[anchor=base, font=\fontsize{24}{28}\selectfont\addfontfeatures{LetterSpace=6}] at (483.5pt,746pt) {Discharge time series of Kgt.18, K.17, Gt.7, X.113};
\pgfresetboundingbox
\path[use as bounding box] (0pt,0pt) rectangle (963pt,797pt);
\end{tikzpicture}
\end{document}
